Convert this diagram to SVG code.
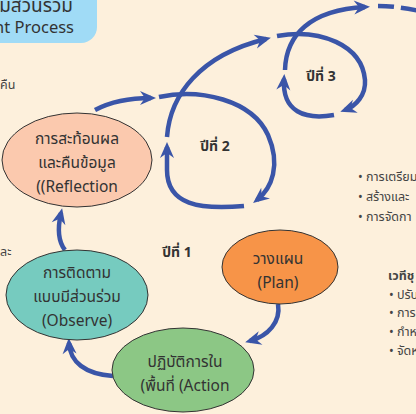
<svg xmlns="http://www.w3.org/2000/svg" width="416" height="414" viewBox="0 0 416 414">
<style>
.bg{fill:#fdf0dc}
.node{stroke:#333;stroke-width:1}
.t{font-family:"Noto Sans","Noto Sans Thai","Liberation Sans",sans-serif;font-size:15.5px;fill:#333;text-anchor:middle}
.yr{font-family:"Noto Sans","Noto Sans Thai","Liberation Sans",sans-serif;font-size:14px;font-weight:bold;fill:#333;text-anchor:middle}
.b{font-family:"Noto Sans","Noto Sans Thai","Liberation Sans",sans-serif;font-size:12.5px;fill:#444}
.c{fill:none;stroke:#3a55a8;stroke-width:4.5}
</style>
<defs>
<marker id="ah" markerUnits="userSpaceOnUse" markerWidth="22" markerHeight="16" viewBox="-16 -8 22 16" refX="0" refY="0" orient="auto">
<path d="M5,0 L-11,-7 L-6,0 L-11,7 Z" fill="#3a55a8"/>
</marker>
</defs>
<rect class="bg" width="416" height="414"/>
<g id="title">
<path d="M0 0 H97 V27 A16 16 0 0 1 81 43 H0 Z" fill="#a0dbf6"/>
<text x="73" y="12" font-family="'Noto Sans','Noto Sans Thai',sans-serif" font-size="19" fill="#333" text-anchor="end">มีส่วนร่วม</text>
<text x="74" y="33" font-family="'Noto Sans','Liberation Sans',sans-serif" font-size="16.5" fill="#333" text-anchor="end">nt Process</text>
</g>
<g id="side-texts">
<text class="b" x="0" y="89" font-size="13">คืน</text>
<text class="b" x="0" y="256" font-size="13">ละ</text>
</g>
<g id="connectors">
<path class="c" marker-end="url(#ah)" d="M113 376 C 85 374, 70 362, 69 343"/>
<path class="c" marker-end="url(#ah)" d="M65 250 C 57 240, 58 226, 61 213"/>
<path class="c" marker-end="url(#ah)" d="M278 304 C 281 322, 268 336, 250 341"/>
<path class="c" marker-end="url(#ah)" d="M95 110 C 112 101, 130 98, 151 98"/>
<path class="c" marker-end="url(#ah)" d="M159 97 C 200 88, 252 100, 268 135 C 281 165, 272 188, 257 200"/>
<path class="c" marker-end="url(#ah)" d="M244 206 C 200 210, 167 205, 167 170 L167 147"/>
<path class="c" d="M167 137 C 170 95, 200 55, 266 39" marker-end="url(#ah)"/>
<path class="c" marker-end="url(#ah)" d="M277 36 C 320 28, 362 45, 365 80 C 366 95, 356 106, 345 110"/>
<path class="c" marker-end="url(#ah)" d="M334 115 C 305 120, 282 112, 284 79"/>
<path class="c" marker-end="url(#ah)" d="M285 70 C 286 35, 310 10, 365 7"/>
<path class="c" stroke-dasharray="16 7" d="M378 6 C 392 6, 405 8, 420 11"/>
</g>
<g id="reflection">
<ellipse class="node" cx="77" cy="160" rx="75" ry="47" fill="#fbc9ae"/>
<text class="t" x="77" y="144">การสะท้อนผล</text>
<text class="t" x="77" y="168">และคืนข้อมูล</text>
<text class="t" x="77" y="192">((Reflection</text>
</g>
<g id="observe">
<ellipse class="node" cx="77" cy="295" rx="71" ry="45" fill="#76cbbf"/>
<text class="t" x="77" y="278">การติดตาม</text>
<text class="t" x="77" y="302">แบบมีส่วนร่วม</text>
<text class="t" x="77" y="326">(Observe)</text>
</g>
<g id="action">
<ellipse class="node" cx="183" cy="370" rx="71" ry="42" fill="#8cc785"/>
<text class="t" x="185" y="367">ปฏิบัติการใน</text>
<text class="t" x="185" y="391">(พื้นที่ (Action</text>
</g>
<g id="plan">
<ellipse class="node" cx="280" cy="267" rx="58" ry="37" fill="#f79448"/>
<text class="t" x="278" y="264">วางแผน</text>
<text class="t" x="278" y="288">(Plan)</text>
</g>
<g id="years">
<text class="yr" x="177" y="257">ปีที่ 1</text>
<text class="yr" x="215" y="151">ปีที่ 2</text>
<text class="yr" x="321" y="81">ปีที่ 3</text>
</g>
<g id="notes">
<text class="b" x="358" y="181">• การเตรียม</text>
<text class="b" x="358" y="201">• สร้างและ</text>
<text class="b" x="358" y="221">• การจัดกา</text>
<text class="b" x="388" y="280" font-weight="bold">เวทีชุ</text>
<text class="b" x="389" y="299">• ปรับ</text>
<text class="b" x="389" y="317">• การ</text>
<text class="b" x="389" y="336">• กำห</text>
<text class="b" x="389" y="355">• จัดห</text>
</g>
</svg>
